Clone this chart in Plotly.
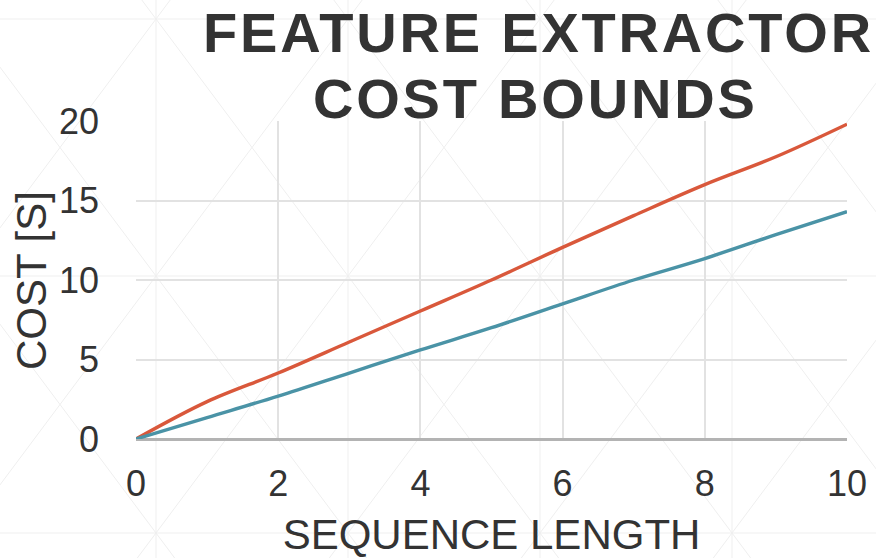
import plotly.graph_objects as go

# ---- data ----
seq_length = [0, 1, 2, 3, 4, 5, 6, 7, 8, 9, 10]
upper_bound = [0, 2.35, 4.15, 6.1, 8.05, 10.0, 12.05, 14.05, 16.0, 17.75, 19.8]
lower_bound = [0, 1.35, 2.7, 4.15, 5.6, 7.0, 8.5, 10.0, 11.35, 12.85, 14.3]
x_ticks = [0, 2, 4, 6, 8, 10]
y_ticks = [0, 5, 10, 15, 20]
title_lines = ["FEATURE EXTRACTOR", "COST BOUNDS"]
x_title = "SEQUENCE LENGTH"
y_title = "COST [S]"

W, H = 876, 558
L, R, T, B = 136, 847, 121, 439  # plot area in pixels


def px(x):
    return (x - L) / (R - L)


def py(y):
    return (B - y) / (B - T)


fig = go.Figure()
fig.add_trace(go.Scatter(x=seq_length, y=upper_bound, mode="lines",
                         line=dict(color="#d9583b", width=3.4, shape="spline"),
                         name="Upper bound"))
fig.add_trace(go.Scatter(x=seq_length, y=lower_bound, mode="lines",
                         line=dict(color="#4a93a6", width=3.4, shape="spline"),
                         name="Lower bound"))

# faint decorative background pattern
shapes = []
pat = dict(color="#efefef", width=1)
for vx in [156 - 192, 156, 348, 540, 732, 924]:
    shapes.append(dict(type="line", xref="paper", yref="paper", layer="below",
                       x0=px(vx), x1=px(vx), y0=py(-10), y1=py(570), line=pat))
for hy in [19, 276, 533]:
    shapes.append(dict(type="line", xref="paper", yref="paper", layer="below",
                       x0=px(-10), x1=px(890), y0=py(hy), y1=py(hy), line=pat))
for i in range(-5, 9):
    x0 = 156 + 192 * i
    shapes.append(dict(type="line", xref="paper", yref="paper", layer="below",
                       x0=px(x0 - 192), y0=py(19 - 257),
                       x1=px(x0 + 192 * 3), y1=py(19 + 257 * 3), line=pat))
    shapes.append(dict(type="line", xref="paper", yref="paper", layer="below",
                       x0=px(x0 + 192), y0=py(19 - 257),
                       x1=px(x0 - 192 * 3), y1=py(19 + 257 * 3), line=pat))

font_family = "Liberation Sans, Arial, sans-serif"
title_font = dict(size=56, color="#333333", family=font_family, weight="bold")


def spaced(s):
    return '<span style="letter-spacing:2.8px">' + s + '</span>'


fig.update_layout(
    width=W, height=H,
    margin=dict(l=L, r=W - R, t=T, b=H - B),
    paper_bgcolor="white", plot_bgcolor="rgba(0,0,0,0)",
    showlegend=False,
    font=dict(family=font_family, color="#333333"),
    shapes=shapes,
    annotations=[
        dict(text=spaced(title_lines[0]), xref="paper", yref="paper", x=px(538), y=py(54),
             xanchor="center", yanchor="bottom", showarrow=False, yshift=-12,
             font=title_font),
        dict(text=spaced(title_lines[1]), xref="paper", yref="paper", x=px(535), y=py(120),
             xanchor="center", yanchor="bottom", showarrow=False, yshift=-12,
             font=title_font),
        dict(text=y_title, xref="paper", yref="paper", x=px(31), y=py(281),
             xanchor="center", yanchor="middle", showarrow=False, textangle=-90,
             font=dict(size=42, color="#333333", family=font_family)),
    ],
    xaxis=dict(range=[0, 10], tickvals=x_ticks, showgrid=True, gridcolor="#e2e2e2",
               gridwidth=1.5, zeroline=False, showline=False, automargin=False,
               tickfont=dict(size=36, color="#333333"), ticklabelstandoff=20,
               title=dict(text=x_title, font=dict(size=42, color="#333333"), standoff=27),
               fixedrange=True),
    yaxis=dict(range=[0, 20], tickvals=y_ticks, showgrid=True, gridcolor="#e2e2e2",
               gridwidth=1.5, zeroline=True, zerolinecolor="#b3b3b3", zerolinewidth=3,
               showline=False, automargin=False, tickfont=dict(size=36, color="#333333"),
               ticklabelstandoff=36, fixedrange=True),
)

fig.write_html("out.html", post_script="document.body.style.margin='0';",
               config={"displayModeBar": False})
